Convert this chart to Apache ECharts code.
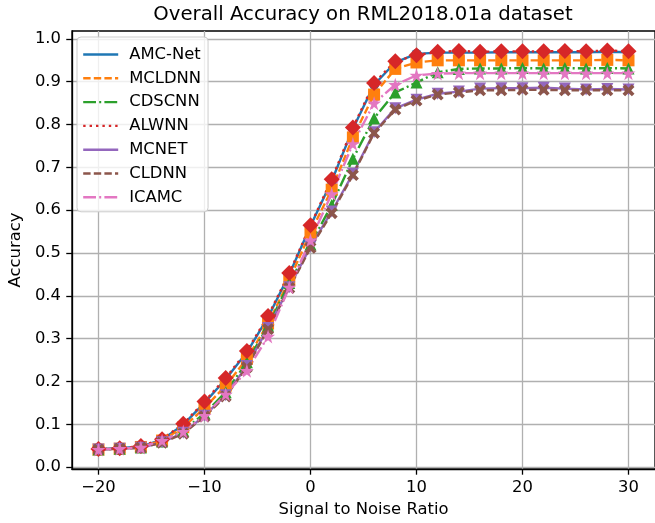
<!DOCTYPE html>
<html>
<head>
<meta charset="utf-8">
<script src="https://cdn.jsdelivr.net/npm/echarts@6/dist/echarts.min.js"></script>
<style>html,body{margin:0;padding:0;background:#fff}#c{width:655px;height:523px}</style>
</head>
<body>
<div id="c"></div>
<script>
const snr = [-20,-18,-16,-14,-12,-10,-8,-6,-4,-2,0,2,4,6,8,10,12,14,16,18,20,22,24,26,28,30];
const xTicks = [-20,-10,0,10,20,30];
const yTicks = [0,0.1,0.2,0.3,0.4,0.5,0.6,0.7,0.8,0.9,1.0];
const amcNet = [0.042,0.044,0.048,0.064,0.099,0.150,0.205,0.268,0.350,0.450,0.563,0.668,0.790,0.893,0.945,0.965,0.968,0.968,0.968,0.969,0.969,0.969,0.969,0.969,0.970,0.969];
const mcldnn = [0.041,0.043,0.047,0.062,0.093,0.138,0.190,0.253,0.335,0.437,0.548,0.648,0.770,0.870,0.930,0.945,0.950,0.950,0.950,0.950,0.950,0.950,0.950,0.950,0.951,0.950];
const cdscnn = [0.041,0.043,0.046,0.060,0.085,0.125,0.175,0.245,0.330,0.430,0.520,0.612,0.720,0.815,0.875,0.898,0.922,0.930,0.931,0.931,0.932,0.931,0.932,0.931,0.932,0.931];
const alwnn = [0.042,0.044,0.049,0.065,0.101,0.153,0.208,0.271,0.353,0.453,0.565,0.672,0.793,0.897,0.948,0.962,0.970,0.972,0.970,0.971,0.971,0.971,0.972,0.971,0.973,0.971];
const mcnet = [0.041,0.043,0.045,0.058,0.080,0.120,0.168,0.236,0.325,0.420,0.515,0.597,0.685,0.782,0.838,0.858,0.872,0.877,0.884,0.885,0.885,0.886,0.884,0.882,0.883,0.882];
const cldnn = [0.041,0.043,0.045,0.057,0.078,0.118,0.165,0.233,0.322,0.418,0.512,0.593,0.682,0.780,0.835,0.856,0.870,0.875,0.880,0.880,0.881,0.881,0.880,0.880,0.880,0.880];
const icamc = [0.041,0.043,0.046,0.062,0.083,0.120,0.170,0.225,0.305,0.420,0.530,0.638,0.755,0.850,0.893,0.915,0.919,0.920,0.920,0.920,0.920,0.920,0.920,0.920,0.920,0.920];

const FONT = 'DejaVu Sans';
const FS = 16.4;
const LW = 2.4;
const STAR = 'path://M50,0 L61,35 L98,35 L68,57 L79,91 L50,70 L21,91 L32,57 L2,35 L39,35 Z';
const XMARK = 'path://M0,22 L22,0 L50,28 L78,0 L100,22 L72,50 L100,78 L78,100 L50,72 L22,100 L0,78 L28,50 Z';

function pairs(ys){ return snr.map((x,i)=>[x, ys[i]]); }
function mk(name, ys, color, dash, symbol, size, rotate){
  return {
    name, type:'line', data: pairs(ys), color,
    lineStyle:{color, width:LW, type:dash},
    itemStyle:{color, borderWidth:0},
    symbol, symbolSize:size, symbolRotate: rotate||0,
    showSymbol:true, clip:false, silent:true,
    emphasis:{disabled:true}
  };
}
const f = v => (v<0 ? '\u2212'+Math.abs(v) : String(v));

const chart = echarts.init(document.getElementById('c'), null, {renderer:'canvas'});
chart.setOption({
  animation:false,
  backgroundColor:'#fff',
  title:{
    text:'Overall Accuracy on RML2018.01a dataset',
    left:358, top:0, textAlign:'center',
    textStyle:{fontFamily:FONT, fontSize:19.7, fontWeight:'normal', color:'#000'}
  },
  legend:{
    orient:'vertical', left:77, top:37,
    padding:[9.5,7,6.5,5],
    itemWidth:35, itemHeight:16, itemGap:7.8,
    backgroundColor:'rgba(255,255,255,0.8)',
    borderColor:'#cccccc', borderWidth:1, borderRadius:4,
    textStyle:{fontFamily:FONT, fontSize:FS, color:'#000', padding:[0,0,0,6], lineHeight:16},
    itemStyle:{opacity:0},
    lineStyle:{width:LW},
    selectedMode:false
  },
  grid:{left:69, right:-2.4, top:31, bottom:53.5, show:true, borderColor:'#000', borderWidth:1.3, backgroundColor:'transparent'},
  xAxis:{
    type:'value', min:-22.5, max:32.5,
    name:'Signal to Noise Ratio', nameLocation:'middle', nameGap:33,
    nameTextStyle:{fontFamily:FONT, fontSize:FS, color:'#000'},
    axisLine:{show:true, onZero:false, lineStyle:{color:'#000', width:1.3}},
    axisTick:{show:true, length:5.7, customValues:xTicks, lineStyle:{color:'#000', width:1.3}},
    axisLabel:{customValues:xTicks, margin:11, fontFamily:FONT, fontSize:FS, color:'#000', formatter:f},
    splitLine:{show:true, lineStyle:{color:'#b0b0b0', width:1.3}}
  },
  yAxis:{
    type:'value', min:-0.0045, max:1.0185,
    name:'Accuracy', nameLocation:'middle', nameGap:42, nameRotate:90,
    nameTextStyle:{fontFamily:FONT, fontSize:FS, color:'#000'},
    axisLine:{show:true, onZero:false, lineStyle:{color:'#000', width:1.3}},
    axisTick:{show:true, length:5.7, customValues:yTicks, lineStyle:{color:'#000', width:1.3}},
    axisLabel:{customValues:yTicks, margin:11, fontFamily:FONT, fontSize:FS, color:'#000', formatter:v=>v.toFixed(1)},
    splitLine:{show:true, lineStyle:{color:'#b0b0b0', width:1.3}}
  },
  series:[
    mk('AMC-Net', amcNet, '#1f77b4', 'solid', 'circle', 10),
    mk('MCLDNN', mcldnn, '#ff7f0e', [7.4,3.2], 'rect', 12),
    mk('CDSCNN', cdscnn, '#2ca02c', [12.8,3.2,2,3.2], 'triangle', 12),
    mk('ALWNN', alwnn, '#d62728', [2.4,4], 'diamond', 16),
    mk('MCNET', mcnet, '#9467bd', 'solid', 'triangle', 12, 180),
    mk('CLDNN', cldnn, '#8c564b', [7.4,3.2], XMARK, 12),
    mk('ICAMC', icamc, '#e377c2', [12.8,3.2,2,3.2], STAR, 14)
  ]
});
</script>
</body>
</html>
